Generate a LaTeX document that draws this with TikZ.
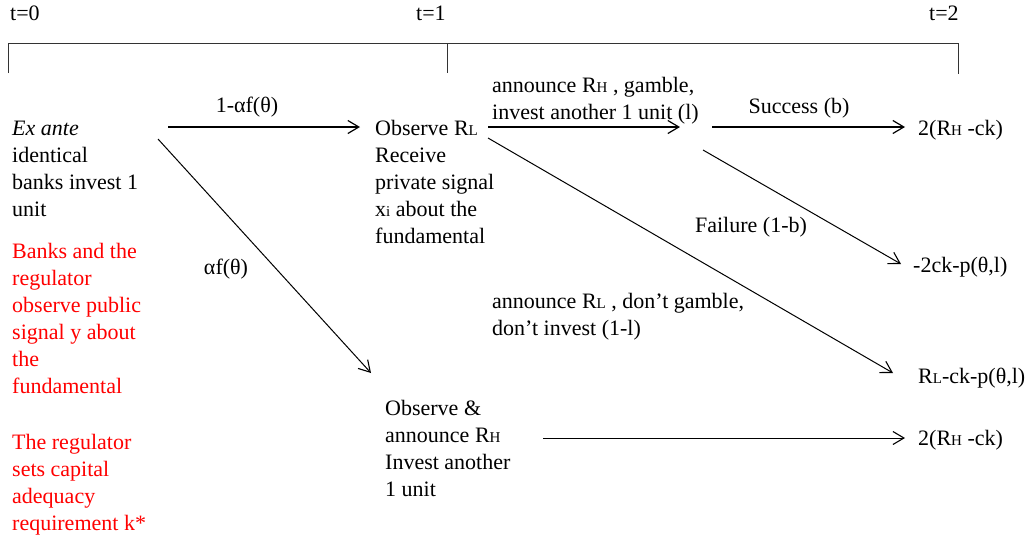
\documentclass[tikz,border=0pt]{standalone}
\usepackage{fontspec}
\setmainfont{Liberation Serif}
\usetikzlibrary{arrows.meta}
\newcommand\smsub[1]{{\fontsize{15}{15}\selectfont #1}}
\begin{document}
\begin{tikzpicture}[x=1pt,y=-1pt,
  txt/.style={inner sep=0pt, anchor=base west, align=left, font=\fontsize{22}{27}\selectfont},
  red txt/.style={txt, text=red},
  lbl/.style={inner sep=0pt, anchor=base, font=\fontsize{22}{27}\selectfont},
  arr/.style={-{Straight Barb[length=11pt,width=13pt,line width=1.2pt]}, line width=1.3pt},
  darr/.style={-{Straight Barb[length=11pt,width=13pt,line width=1.1pt]}, line width=1pt},
  tl/.style={line width=1pt, draw=black!80}
]
\useasboundingbox (0,0) rectangle (1033,542);

% timeline
\node[txt] (t0) at (10,20) {t=0};
\node[txt] (t1) at (416,20) {t=1};
\node[txt] (t2) at (929,20) {t=2};
\draw[tl] (8,73) -- (8,43) -- (958,43) -- (958,74);
\draw[tl] (447,43) -- (447,73);

% left column (base anchor = last line baseline)
\node[txt] (exante) at (12,216) {\textit{Ex ante}\\identical\\banks invest 1\\unit};
\node[red txt] (public) at (12,393) {Banks and the\\regulator\\observe public\\signal y about\\the\\fundamental};
\node[red txt] (reg) at (12,530) {The regulator\\sets capital\\adequacy\\requirement k*};

% middle
\node[txt] (obsRL) at (375,243) {Observe R\smsub{L}\\Receive\\private signal\\x\smsub{i} about the\\fundamental};
\node[txt] (obsRH) at (385,496) {Observe \&\\announce R\smsub{H}\\Invest another\\1 unit};

% gamble branch
\node[txt] (gamble) at (492,119) {announce R\smsub{H} , gamble,\\invest another 1 unit (l)};
\node[txt] (nogamble) at (492,335) {announce R\smsub{L} , don’t gamble,\\don’t invest (1-l)};

% payoffs
\node[txt] (payS) at (918,135) {2(R\smsub{H} -ck)};
\node[txt] (payF) at (913,272) {-2ck-p(θ,l)};
\node[txt] (payL) at (918,383) {R\smsub{L}-ck-p(θ,l)};
\node[txt] (payH) at (918,445) {2(R\smsub{H} -ck)};

% edge labels
\node[lbl] (l1) at (247,112) {1-αf(θ)};
\node[lbl] (l2) at (226,274) {αf(θ)};
\node[lbl] (l3) at (799,113) {Success (b)};
\node[lbl] (l4) at (751,232) {Failure (1-b)};

% arrow end points
\coordinate (a1s) at (168,127);
\coordinate (a1e) at (360,127);
\coordinate (a2s) at (158,139);
\coordinate (a2e) at (371,373);
\coordinate (a3s) at (488,127);
\coordinate (a3e) at (680,127);
\coordinate (a4s) at (712,127);
\coordinate (a4e) at (905,127);
\coordinate (a5s) at (703,150);
\coordinate (a5e) at (901,264);
\coordinate (a6s) at (488,138);
\coordinate (a6e) at (893,373);
\coordinate (a7s) at (543,438);
\coordinate (a7e) at (905,438);

\draw[arr] (a1s) -- (a1e);
\draw[darr] (a2s) -- (a2e);
\draw[arr] (a3s) -- (a3e);
\draw[arr] (a4s) -- (a4e);
\draw[darr] (a5s) -- (a5e);
\draw[darr] (a6s) -- (a6e);
\draw[darr] (a7s) -- (a7e);
\end{tikzpicture}
\end{document}
